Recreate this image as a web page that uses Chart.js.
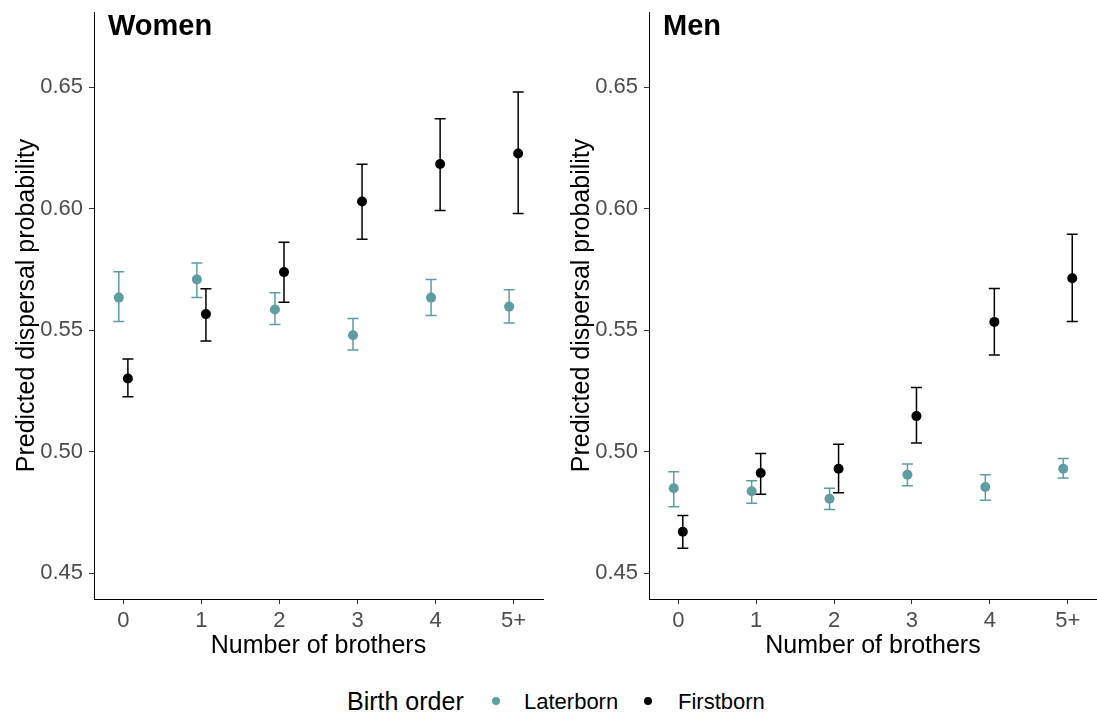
<!DOCTYPE html>
<html><head><meta charset="utf-8">
<script src="https://cdn.jsdelivr.net/npm/chart.js@4.4.1/dist/chart.umd.min.js"></script>
<style>
html,body{margin:0;padding:0;background:#fff;width:1097px;height:715px;overflow:hidden;font-family:"Liberation Sans",Arial,sans-serif;position:relative;}
canvas{position:absolute;top:0;}
.lg{position:absolute;color:#000;line-height:24px;white-space:nowrap;}
.dot{position:absolute;border-radius:50%;}
</style></head><body>
<canvas id="c1" width="548" height="661" style="left:0"></canvas>
<canvas id="c2" width="547" height="661" style="left:555px"></canvas>
<div class="lg" style="left:347px;top:689px;font-size:25px">Birth order</div>
<div class="dot" style="left:492px;top:697px;width:8px;height:8px;background:#5f9ea0"></div>
<div class="lg" style="left:524px;top:690px;font-size:22px">Laterborn</div>
<div class="dot" style="left:644px;top:697px;width:8px;height:8px;background:#000"></div>
<div class="lg" style="left:678px;top:690px;font-size:22px">Firstborn</div>
<script>
const categories = ['0','1','2','3','4','5+'];
const yTicks = [0.45,0.50,0.55,0.60,0.65];

// Women
const womenLater   = [0.5634,0.5709,0.5585,0.5479,0.5634,0.5597];
const womenLaterLo = [0.5536,0.5634,0.5523,0.5418,0.5560,0.5529];
const womenLaterHi = [0.5740,0.5777,0.5654,0.5548,0.5709,0.5666];
const womenFirst   = [0.5301,0.5566,0.5739,0.6030,0.6184,0.6227];
const womenFirstLo = [0.5226,0.5455,0.5615,0.5874,0.5993,0.5980];
const womenFirstHi = [0.5381,0.5670,0.5862,0.6183,0.6370,0.6481];

// Men
const menLater   = [0.4849,0.4837,0.4806,0.4905,0.4854,0.4929];
const menLaterLo = [0.4773,0.4787,0.4762,0.4859,0.4800,0.4891];
const menLaterHi = [0.4917,0.4880,0.4849,0.4949,0.4905,0.4972];
const menFirst   = [0.4670,0.4912,0.4929,0.5146,0.5534,0.5714];
const menFirstLo = [0.4602,0.4824,0.4831,0.5035,0.5398,0.5536];
const menFirstHi = [0.4737,0.4992,0.5030,0.5264,0.5671,0.5895];

const TEAL = '#5f9ea0';
const DODGE = 0.058;
const FONT = '"Liberation Sans", Arial, sans-serif';

const errorBars = {
  id: 'errorBars',
  beforeDatasetsDraw(chart) {
    const {ctx, scales: {x, y}} = chart;
    chart.data.datasets.forEach(ds => {
      ctx.save();
      ctx.strokeStyle = ds.borderColor;
      ctx.lineWidth = 1.5;
      const cap = 5.5;
      ds.data.forEach((p, i) => {
        const px = x.getPixelForValue(p.x);
        const y1 = y.getPixelForValue(ds.lo[i]);
        const y2 = y.getPixelForValue(ds.hi[i]);
        ctx.beginPath();
        ctx.moveTo(px, y1); ctx.lineTo(px, y2);
        ctx.moveTo(px - cap, y1); ctx.lineTo(px + cap, y1);
        ctx.moveTo(px - cap, y2); ctx.lineTo(px + cap, y2);
        ctx.stroke();
      });
      ctx.restore();
    });
  }
};

const panelTitle = {
  id: 'panelTitle',
  afterDraw(chart, args, opts) {
    const {ctx, chartArea} = chart;
    ctx.save();
    ctx.font = 'bold 29px ' + FONT;
    ctx.fillStyle = '#000';
    ctx.textBaseline = 'alphabetic';
    ctx.textAlign = 'left';
    ctx.fillText(opts.text, chartArea.left + 14, 35);
    ctx.restore();
  }
};

function makePanel(id, title, lat, latLo, latHi, fir, firLo, firHi) {
  new Chart(document.getElementById(id), {
    type: 'scatter',
    data: {
      datasets: [
        { label: 'Laterborn', data: lat.map((v, i) => ({x: i - DODGE, y: v})), lo: latLo, hi: latHi,
          backgroundColor: TEAL, borderColor: TEAL, pointRadius: 5, pointBorderWidth: 0 },
        { label: 'Firstborn', data: fir.map((v, i) => ({x: i + DODGE, y: v})), lo: firLo, hi: firHi,
          backgroundColor: '#000', borderColor: '#000', pointRadius: 5, pointBorderWidth: 0 }
      ]
    },
    options: {
      responsive: false,
      animation: false,
      events: [],
      layout: { padding: { top: 12, left: 0, right: 5, bottom: 0 } },
      plugins: { legend: { display: false }, tooltip: { enabled: false }, panelTitle: { text: title } },
      scales: {
        x: {
          type: 'linear', min: -0.376, max: 5.376,
          afterBuildTicks: s => { s.ticks = categories.map((c, i) => ({value: i})); },
          afterFit: s => { s.height = 62; s.paddingLeft = 0; s.paddingRight = 0; },
          ticks: { callback: (v) => categories[Math.round(v)], color: '#4d4d4d', font: {family: FONT, size: 22}, padding: 4, maxRotation: 0 },
          grid: { display: true, drawOnChartArea: false, drawTicks: true, tickLength: 5, tickColor: '#333', tickWidth: 1 },
          border: { display: true, color: '#000', width: 1 },
          title: { display: true, text: 'Number of brothers', color: '#000', font: {family: FONT, size: 25}, padding: {top: 0, bottom: 0} }
        },
        y: {
          type: 'linear', min: 0.4393, max: 0.681,
          afterBuildTicks: s => { s.ticks = yTicks.map(v => ({value: v})); },
          afterFit: s => { s.width = 94; s.paddingTop = 0; s.paddingBottom = 0; },
          ticks: { callback: (v) => v.toFixed(2), color: '#4d4d4d', font: {family: FONT, size: 22}, padding: 6 },
          grid: { display: true, drawOnChartArea: false, drawTicks: true, tickLength: 5, tickColor: '#333', tickWidth: 1 },
          border: { display: true, color: '#000', width: 1 },
          title: { display: true, text: 'Predicted dispersal probability', color: '#000', font: {family: FONT, size: 25}, padding: {top: 12, bottom: 0} }
        }
      }
    },
    plugins: [errorBars, panelTitle]
  });
}

makePanel('c1', 'Women', womenLater, womenLaterLo, womenLaterHi, womenFirst, womenFirstLo, womenFirstHi);
makePanel('c2', 'Men', menLater, menLaterLo, menLaterHi, menFirst, menFirstLo, menFirstHi);
</script>
</body></html>
